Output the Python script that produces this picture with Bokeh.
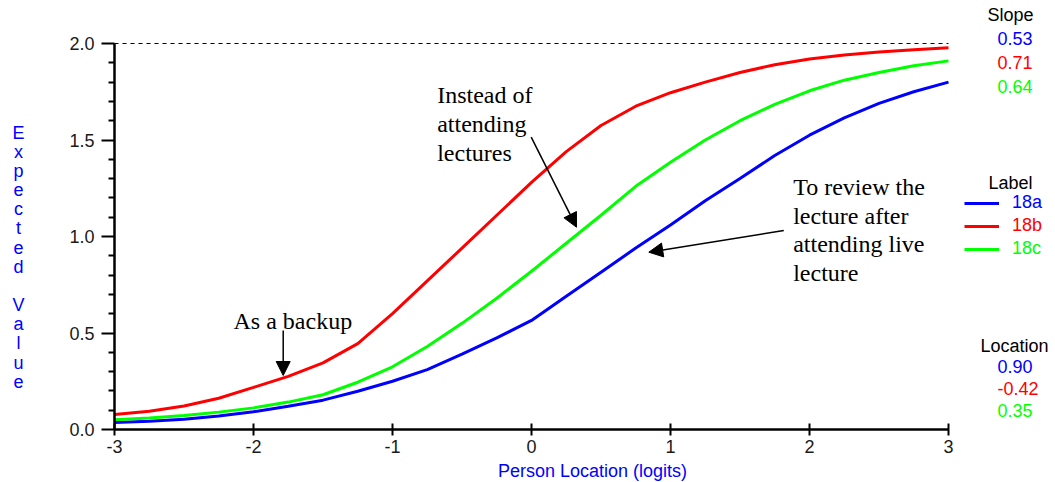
from bokeh.plotting import figure
from bokeh.models import (Range1d, FixedTicker, PrintfTickFormatter, Label, Arrow,
                          NormalHead, Legend, LegendItem)
from bokeh.embed import file_html
from bokeh.resources import INLINE

# ---------------- data ----------------
x_logits = [-3.0, -2.75, -2.5, -2.25, -2.0, -1.75, -1.5, -1.25, -1.0, -0.75, -0.5, -0.25,
            0.0, 0.25, 0.5, 0.75, 1.0, 1.25, 1.5, 1.75, 2.0, 2.25, 2.5, 2.75, 3.0]
ev_18a = [0.036, 0.043, 0.053, 0.07, 0.092, 0.12, 0.152, 0.198, 0.25, 0.31, 0.39, 0.475,
          0.565, 0.69, 0.815, 0.94, 1.06, 1.185, 1.30, 1.42, 1.525, 1.615, 1.69, 1.75, 1.80]
ev_18b = [0.078, 0.095, 0.122, 0.162, 0.218, 0.275, 0.345, 0.445, 0.60, 0.77, 0.94, 1.11,
          1.28, 1.44, 1.575, 1.675, 1.745, 1.80, 1.85, 1.89, 1.92, 1.94, 1.956, 1.968, 1.978]
ev_18c = [0.05, 0.06, 0.072, 0.09, 0.112, 0.142, 0.18, 0.245, 0.325, 0.43, 0.55, 0.68,
          0.82, 0.965, 1.11, 1.26, 1.385, 1.50, 1.60, 1.685, 1.755, 1.81, 1.85, 1.885, 1.91]

item_labels = ["18a", "18b", "18c"]
slopes = ["0.53", "0.71", "0.64"]
locations = ["0.90", "-0.42", "0.35"]
colors = ["#0000FF", "#FF0000", "#00FF00"]

x_ticks = [-3, -2, -1, 0, 1, 2, 3]
y_ticks = [0.0, 0.5, 1.0, 1.5, 2.0]
y_minor = [0.1, 0.2, 0.3, 0.4, 0.6, 0.7, 0.8, 0.9, 1.1, 1.2, 1.3, 1.4, 1.6, 1.7, 1.8, 1.9]

y_title = "Expected Value"
x_title = "Person Location (logits)"
notes = {
    "backup": ["As a backup"],
    "instead": ["Instead of", "attending", "lectures"],
    "review": ["To review the", "lecture after", "attending live", "lecture"],
}

# ---------------- geometry (pixels of the 1055x482 canvas) ----------------
W, H = 1055, 482
PX_LEFT, PX_RIGHT = 114, 948      # x = -3 and x = 3
PX_TOP, PX_BOTTOM = 43, 429       # y = 2 and y = 0
kx = (PX_RIGHT - PX_LEFT) / (x_ticks[-1] - x_ticks[0])
ky = (PX_BOTTOM - PX_TOP) / (y_ticks[-1] - y_ticks[0])
x0 = x_ticks[0] - PX_LEFT / kx
x1 = x_ticks[-1] + (W - PX_RIGHT) / kx
y0 = y_ticks[0] - (H - PX_BOTTOM) / ky
y1 = y_ticks[-1] + PX_TOP / ky


def dx(px):
    return x0 + px / kx


def dy(py):
    return y1 - py / ky


p = figure(width=W, height=H, x_range=Range1d(x0, x1), y_range=Range1d(y0, y1),
           output_backend="svg", toolbar_location=None,
           min_border=0, min_border_left=0, min_border_right=0,
           min_border_top=0, min_border_bottom=0)
p.outline_line_color = None
p.xgrid.visible = False
p.ygrid.visible = False
p.background_fill_color = "white"
p.border_fill_color = "white"

SANS = "Liberation Sans"
SERIF = "Liberation Serif"
FS = "18px"

for ax in (p.xaxis[0], p.yaxis[0]):
    ax.axis_line_width = 2.5
    ax.axis_line_color = "black"
    ax.major_tick_line_width = 2
    ax.minor_tick_line_width = 2
    ax.major_tick_line_color = "black"
    ax.minor_tick_line_color = "black"
    ax.major_label_text_font = SANS
    ax.major_label_text_font_size = FS
    ax.major_label_text_color = "#1a1a1a"

p.xaxis.fixed_location = y_ticks[0]
p.xaxis.bounds = (x_ticks[0], x_ticks[-1])
p.xaxis.ticker = FixedTicker(ticks=x_ticks)
p.xaxis.formatter = PrintfTickFormatter(format="%d")
p.xaxis.major_tick_in = 6
p.xaxis.major_tick_out = 6
p.xaxis.minor_tick_in = 0
p.xaxis.minor_tick_out = 0
p.xaxis.major_label_standoff = 4

p.yaxis.fixed_location = x_ticks[0]
p.yaxis.bounds = (y_ticks[0], y_ticks[-1])
p.yaxis.ticker = FixedTicker(ticks=y_ticks, minor_ticks=y_minor)
p.yaxis.formatter = PrintfTickFormatter(format="%.1f")
p.yaxis.major_tick_in = 0
p.yaxis.major_tick_out = 13
p.yaxis.minor_tick_in = 0
p.yaxis.minor_tick_out = 6
p.yaxis.major_label_standoff = 7

# dashed ceiling line at the maximum expected value
p.line([x_ticks[0], x_ticks[-1]], [y_ticks[-1], y_ticks[-1]], line_color="black",
       line_width=1.2, line_dash="4 4")

# curves
series = [ev_18a, ev_18b, ev_18c]
renderers = []
for ys, c in zip(series, colors):
    renderers.append(p.line(x_logits, ys, line_color=c, line_width=3))

# axis titles
p.add_layout(Label(x=dx(18), y=dy(122), text="\n".join(list(y_title)), text_align="center",
                   text_baseline="top", text_font=SANS, text_font_size=FS,
                   text_color="#0000FF", text_line_height=0.959))
p.add_layout(Label(x=dx(592), y=dy(470), text=x_title, text_align="center",
                   text_baseline="middle", text_font=SANS, text_font_size=FS,
                   text_color="#0000FF"))


# right-side panels
def head(txt, cx, cy):
    p.add_layout(Label(x=dx(cx), y=dy(cy), text=txt, text_align="center",
                       text_baseline="middle", text_font=SANS, text_font_size=FS,
                       text_color="black"))


head("Slope", 1010, 14)
for i, (s, c) in enumerate(zip(slopes, colors)):
    p.add_layout(Label(x=dx(997), y=dy(38 + 24 * i), text=s, text_align="left",
                       text_baseline="middle", text_font=SANS, text_font_size=FS,
                       text_color=c))

head("Label", 1010, 182)
for i, (lab, c, r) in enumerate(zip(item_labels, colors, renderers)):
    lg = Legend(items=[LegendItem(label=lab, renderers=[r])],
                location=(964, H - (203 + 23 * i + 10)),
                glyph_width=35, glyph_height=20, label_height=20, label_standoff=13,
                padding=0, margin=0, spacing=0, border_line_color=None,
                background_fill_alpha=0, label_text_font=SANS,
                label_text_font_size=FS, label_text_color=c)
    p.add_layout(lg, "center")

head("Location", 1014, 345)
for i, (s, c) in enumerate(zip(locations, colors)):
    p.add_layout(Label(x=dx(997), y=dy(366 + 22 * i), text=s, text_align="left",
                       text_baseline="middle", text_font=SANS, text_font_size=FS,
                       text_color=c))


# annotations
def note(lines, left, base0, step=29.2):
    for k, t in enumerate(lines):
        p.add_layout(Label(x=dx(left), y=dy(base0 + step * k), text=t, text_align="left",
                           text_baseline="alphabetic", text_font=SERIF,
                           text_font_size="24px", text_color="black"))


note(notes["backup"], 233, 320.7)
note(notes["instead"], 436.7, 94.3)
note(notes["review"], 792.7, 186.7, 28.5)


def arrow(xa, ya, xb, yb):
    p.add_layout(Arrow(end=NormalHead(size=14, fill_color="black", line_color="black"),
                       x_start=dx(xa), y_start=dy(ya), x_end=dx(xb), y_end=dy(yb),
                       line_color="black", line_width=1.5))


arrow(282.7, 330, 282.7, 375)
arrow(530.7, 136.7, 576, 226.7)
arrow(783.3, 230, 648.3, 251.7)

open("out.html", "w").write(file_html(p, INLINE))
